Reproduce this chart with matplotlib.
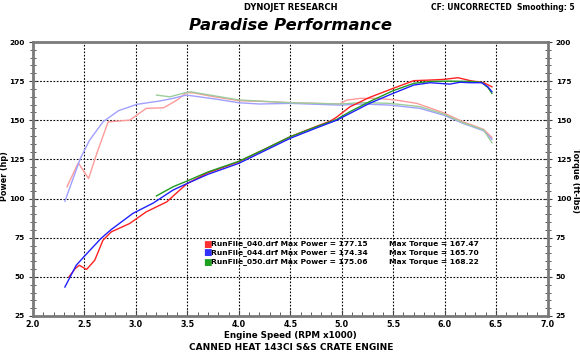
import matplotlib.pyplot as plt
import matplotlib
import numpy as np
from matplotlib.ticker import MultipleLocator

matplotlib.rc('font', family='DejaVu Sans')

# power curves (hp)
rpm_040_hp = [2.35, 2.41, 2.45, 2.52, 2.60, 2.68, 2.76, 2.94, 3.10, 3.30, 3.39, 3.50, 3.70, 4.00,
              4.25, 4.50, 4.75, 4.89, 4.95, 5.08, 5.27, 5.50, 5.70, 5.86, 5.99, 6.13, 6.25, 6.38, 6.46]
hp_040 = [50.0, 55.3, 57.4, 54.7, 60.6, 73.4, 78.7, 84.1, 91.5, 97.9, 103.3, 109.7, 116.5, 123.5,
          131.5, 139.5, 146.0, 149.5, 152.0, 158.6, 164.6, 170.4, 175.3, 175.7, 176.1, 177.2, 175.3, 174.0, 171.4]

rpm_044_hp = [2.31, 2.42, 2.50, 2.66, 2.76, 2.97, 3.17, 3.36, 3.50, 3.70, 4.00, 4.25, 4.50, 4.75,
              4.95, 5.08, 5.27, 5.50, 5.70, 5.86, 6.05, 6.15, 6.25, 6.36, 6.42, 6.46]
hp_044 = [43.5, 57.4, 63.2, 74.5, 80.2, 90.5, 97.2, 105.4, 109.7, 115.5, 122.5, 130.5, 138.5, 145.0,
          150.0, 154.4, 160.8, 167.2, 172.5, 174.0, 173.1, 174.3, 174.0, 174.0, 171.4, 168.2]

rpm_050_hp = [3.20, 3.36, 3.50, 3.70, 4.00, 4.25, 4.50, 4.75, 4.95, 5.08, 5.27, 5.50, 5.70, 5.86,
              6.05, 6.25, 6.36, 6.42, 6.46]
hp_050 = [101.7, 107.5, 111.3, 117.0, 123.8, 131.5, 139.5, 145.8, 150.5, 155.5, 161.9, 168.9, 173.6, 174.8,
          175.0, 174.8, 174.2, 171.0, 167.2]

# torque curves (ft-lbs)
rpm_040_tq = [2.33, 2.44, 2.54, 2.62, 2.73, 2.94, 3.10, 3.27, 3.40, 3.49, 3.56, 3.72, 4.00, 4.25,
              4.50, 4.75, 4.98, 5.05, 5.18, 5.35, 5.53, 5.73, 5.99, 6.18, 6.38, 6.46]
tq_040 = [107.5, 122.8, 112.8, 128.8, 149.0, 150.1, 157.6, 158.0, 162.9, 167.6, 167.5, 165.5, 162.5, 162.0,
          161.2, 160.8, 160.4, 162.9, 164.0, 164.0, 162.9, 160.8, 154.8, 149.0, 144.2, 139.0]

rpm_044_tq = [2.31, 2.46, 2.55, 2.68, 2.83, 3.01, 3.23, 3.36, 3.49, 3.56, 3.79, 4.00, 4.20, 4.50,
              4.98, 5.21, 5.47, 5.76, 5.99, 6.18, 6.38, 6.46]
tq_044 = [98.3, 125.6, 137.3, 149.0, 156.1, 160.2, 162.3, 164.0, 166.1, 165.5, 163.4, 161.2, 160.4, 160.8,
          159.7, 160.4, 159.7, 157.6, 153.3, 148.0, 143.3, 137.8]

rpm_050_tq = [3.20, 3.33, 3.49, 3.53, 3.72, 4.00, 4.50, 4.98, 5.21, 5.47, 5.76, 5.99, 6.18, 6.38, 6.46]
tq_050 = [166.1, 165.0, 167.8, 168.2, 166.1, 163.0, 161.2, 160.4, 161.3, 160.8, 158.7, 154.0, 148.4, 143.8, 135.6]

runs = ['RunFile_040.drf', 'RunFile_044.drf', 'RunFile_050.drf']
max_power = ['177.15', '174.34', '175.06']
max_torque = ['167.47', '165.70', '168.22']

x_ticks = [2.0, 2.5, 3.0, 3.5, 4.0, 4.5, 5.0, 5.5, 6.0, 6.5, 7.0]
y_ticks = [25, 50, 75, 100, 125, 150, 175, 200]

# -------------------- 그리기 -------------------- #
fig = plt.figure(figsize=(5.8, 3.55), dpi=100)
ax = fig.add_axes([33 / 580, 1 - 316 / 355, (547.5 - 33) / 580, (316 - 42) / 355])

ax.set_xlim(2.0, 7.0)
ax.set_ylim(25, 200)

# 그리드
for x in x_ticks[1:-1]:
    ax.axvline(x, color='black', lw=0.8, ls=(0, (1.5, 1.5)), zorder=1)
for y in y_ticks[1:-1]:
    ax.axhline(y, color='black', lw=0.8, ls=(0, (1.5, 1.5)), zorder=1)

# torque (연한 색)
ax.plot(rpm_040_tq, tq_040, color='#ff9a9a', lw=1, zorder=2)
ax.plot(rpm_044_tq, tq_044, color='#a0a0ff', lw=1, zorder=2)
ax.plot(rpm_050_tq, tq_050, color='#9ccc9c', lw=1, zorder=2)

# power
ax.plot(rpm_040_hp, hp_040, color='#ff2020', lw=1, zorder=3)
ax.plot(rpm_050_hp, hp_050, color='#209a20', lw=1, zorder=3)
ax.plot(rpm_044_hp, hp_044, color='#2020ff', lw=1, zorder=3)

# 축 / 눈금
ax.set_xticks(x_ticks)
ax.set_xticklabels([f'{v:.1f}' for v in x_ticks], fontweight='bold', fontsize=5.8)
ax.set_yticks(y_ticks)
ax.set_yticklabels([str(v) for v in y_ticks], fontweight='bold', fontsize=5.3)
ax.xaxis.set_minor_locator(MultipleLocator(0.1))
ax.yaxis.set_minor_locator(MultipleLocator(5))
ax.tick_params(axis='x', which='both', direction='in', color='#404040', pad=3)
ax.tick_params(axis='x', which='major', length=4)
ax.tick_params(axis='x', which='minor', length=3)
ax.tick_params(axis='y', which='both', direction='inout', color='#404040', right=True,
               labelright=True, pad=3)
ax.tick_params(axis='y', which='major', length=6)
ax.tick_params(axis='y', which='minor', length=5)
for lbl in ax.get_yticklabels():
    lbl.set_fontweight('bold')
    lbl.set_fontsize(5.3)
for s in ax.spines.values():
    s.set_color('#7a7a7a')
    s.set_linewidth(2)

ax.set_xlabel('Engine Speed (RPM x1000)', fontsize=6.3, fontweight='bold', labelpad=1)
fig.text(4.5 / 580, 1 - 176 / 355, 'Power (hp)', rotation=90, fontsize=5.8, fontweight='bold',
         ha='center', va='center')
fig.text(575.5 / 580, 1 - 180 / 355, 'Torque (ft-lbs)', rotation=-90, fontsize=5.8, fontweight='bold',
         ha='center', va='center')

# 제목들
fig.text(291 / 580, 1 - 8 / 355, 'DYNOJET RESEARCH', fontsize=6, fontweight='bold',
         ha='center', va='center')
fig.text(575 / 580, 1 - 7 / 355, 'CF: UNCORRECTED  Smoothing: 5', fontsize=5.5, fontweight='bold',
         ha='right', va='center')
fig.text(291 / 580, 1 - 26 / 355, 'Paradise Performance', fontsize=11.8, fontweight='bold',
         style='italic', ha='center', va='center')
fig.text(291 / 580, 1 - 347 / 355, 'CANNED HEAT 143CI S&S CRATE ENGINE', fontsize=6.5,
         fontweight='bold', ha='center', va='center')

# 범례
colors_face = ['#ff3030', '#3030ff', '#20a020']
for i in range(3):
    yy = 1 - (244 + 9 * i) / 355
    fig.text(207 / 580, yy, '\u25a0', color=colors_face[i], fontsize=6.5, ha='center', va='center')
    fig.text(211 / 580, yy, f'{runs[i]} Max Power = {max_power[i]}', fontsize=5.4,
             fontweight='bold', ha='left', va='center')
    fig.text(389 / 580, yy, f'Max Torque = {max_torque[i]}', fontsize=5.4,
             fontweight='bold', ha='left', va='center')

plt.savefig('out.png', dpi=100)
